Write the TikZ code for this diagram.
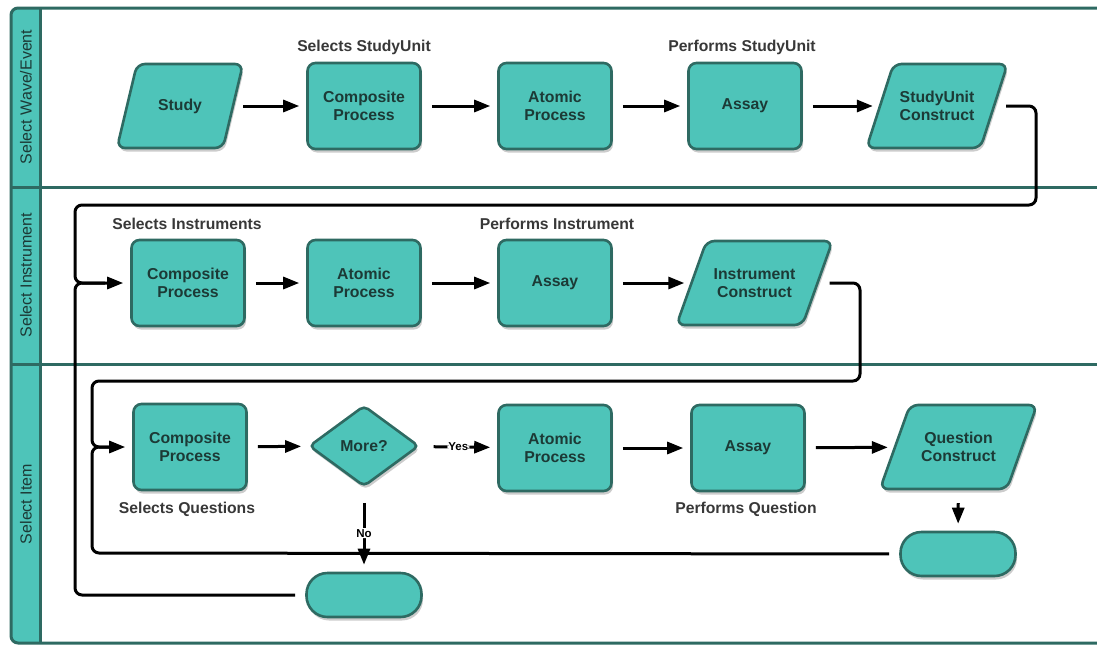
\documentclass[tikz,border=0pt]{standalone}
\usepackage{fontspec}
\setmainfont{Liberation Sans}
\usetikzlibrary{shapes.geometric,shadows,arrows.meta,calc}
\definecolor{tealfill}{HTML}{4EC4B9}
\definecolor{tealline}{HTML}{2E6A62}
\definecolor{nodetext}{HTML}{1C3A36}
\definecolor{labeltext}{HTML}{383838}

% data (input/output) box: a slanted parallelogram with a text node on top
% #1 name, #2 centre, #3 edge width, #4 slant, #5 text
\newcommand\dataslot[5]{%
  \draw[datashape] (#2) ++({-(#3+#4)/2},42) -- ++(#3,0) -- ++(#4,-84) -- ++(-#3,0) -- cycle;
  \node[datatext, minimum width=#3 pt] (#1) at (#2) {#5};
}

\begin{document}
\begin{tikzpicture}[x=1pt,y=-1pt,
  shade/.style={drop shadow={shadow xshift=1.5pt, shadow yshift=-3.5pt, opacity=.2, fill=black}},
  boxtext/.style={inner sep=0pt, align=center, font=\fontsize{15.8}{18}\selectfont\bfseries, text=nodetext},
  box/.style={boxtext, draw=tealline, fill=tealfill, line width=2.6pt, rounded corners=8pt,
    minimum width=113pt, minimum height=86pt, shade},
  proc/.style={box, rectangle},
  datashape/.style={draw=tealline, fill=tealfill, line width=2.6pt, rounded corners=8pt, shade},
  datatext/.style={boxtext, rectangle, minimum height=84pt},
  decision/.style={box, diamond, minimum width=110pt, minimum height=81pt, rounded corners=5pt},
  term/.style={box, rectangle, rounded corners=21pt, minimum width=115pt, minimum height=44pt},
  tag/.style={font=\fontsize{15.7}{18}\selectfont\bfseries, text=labeltext},
  lanetitle/.style={rotate=90, font=\fontsize{16}{19}\selectfont, text=nodetext},
  flow/.style={line width=3pt, black, rounded corners=7pt,
    -{Triangle[length=16pt,width=12pt]}, shorten <=10pt, shorten >=7pt},
  link/.style={line width=3pt, black, rounded corners=7pt},
  choice/.style={font=\fontsize{11.5}{13}\selectfont\bfseries, fill=white, inner sep=1pt, text=black}
]
\useasboundingbox (0,0) rectangle (1097,645);
\clip (0,0) rectangle (1097,645);

% pool frame, lane headers and lane dividers
\fill[white] (0,0) rectangle (1097,645);
\begin{scope}
  \clip[rounded corners=7pt] (11,8) rectangle (1130,643);
  \fill[tealfill] (11,8) rectangle (40,643);
\end{scope}
\draw[tealline, line width=3pt, rounded corners=7pt] (11,8) rectangle (1130,643);
\draw[tealline, line width=3pt] (40,8) -- (40,643);
\draw[tealline, line width=3pt] (11,187) -- (1130,187);
\draw[tealline, line width=3pt] (11,364) -- (1130,364);

\node[lanetitle] (lane1) at (26,97) {Select Wave/Event};
\node[lanetitle] (lane2) at (26,275) {Select Instrument};
\node[lanetitle] (lane3) at (26,504) {Select Item};

% lane 1
\dataslot{study}{180,106}{106}{20}{Study}
\node[proc] (cp1) at (364,106) {Composite\\Process};
\node[proc] (ap1) at (555,106) {Atomic\\Process};
\node[proc] (as1) at (745,106) {Assay};
\dataslot{suc}{937,106}{114}{27}{StudyUnit\\Construct}
\node[tag] (t-cp1) at (364,47) {Selects StudyUnit};
\node[tag] (t-as1) at (742,47) {Performs StudyUnit};

% lane 2
\node[proc] (cp2) at (188,283) {Composite\\Process};
\node[proc] (ap2) at (364,283) {Atomic\\Process};
\node[proc] (as2) at (555,283) {Assay};
\dataslot{ic}{754.5,283}{126}{30}{Instrument\\Construct}
\node[tag] (t-cp2) at (187,224) {Selects Instruments};
\node[tag] (t-as2) at (557,224) {Performs Instrument};

% lane 3
\node[proc] (cp3) at (190,447) {Composite\\Process};
\node[decision] (more) at (364,446) {More?};
\node[proc] (ap3) at (555,448) {Atomic\\Process};
\node[proc] (as3) at (748,448) {Assay};
\dataslot{qc}{958.5,447}{127}{30}{Question\\Construct}
\node[term] (t1) at (364,595) {};
\node[term] (t2) at (958,554) {};
\node[tag] (t-cp3) at (187,509) {Selects Questions};
\node[tag] (t-as3) at (746,509) {Performs Question};

\coordinate (join1) at (105,283);
\coordinate (join2) at (118,447);

% loop-back connectors
\draw[flow, shorten <=12pt] (suc.east) -- (1036,106) -- (1036,205) -- (75,205) -- (75,283) -- (cp2.west);
\draw[link, shorten <=10pt] (t1.west) -- (75,595) -- (75,283) -- (join1);
\draw[flow, shorten <=12pt] (ic.east) -- (860,283) -- (860,381) -- (92,381) -- (92,447) -- (cp3.west);
\draw[link, shorten <=10pt] (t2.west) -- (92,553) -- (92,447) -- (join2);

% lane 1 flow
\draw[flow] (study) -- (cp1);
\draw[flow] (cp1) -- (ap1);
\draw[flow] (ap1) -- (as1);
\draw[flow] (as1) -- (suc);

% lane 2 flow
\draw[flow] (cp2) -- (ap2);
\draw[flow] (ap2) -- (as2);
\draw[flow] (as2) -- (ic);

% lane 3 flow
\draw[flow] (cp3) -- (more);
\draw[flow, shorten <=14pt] (more) -- node[choice] {Yes} (ap3);
\draw[flow] (ap3) -- (as3);
\draw[flow] (as3) -- (qc);
\draw[flow, shorten <=15pt] (more) -- node[choice, pos=0.54] {No} (t1);
\draw[flow, shorten <=14pt] (qc) -- (t2);
\end{tikzpicture}
\end{document}
